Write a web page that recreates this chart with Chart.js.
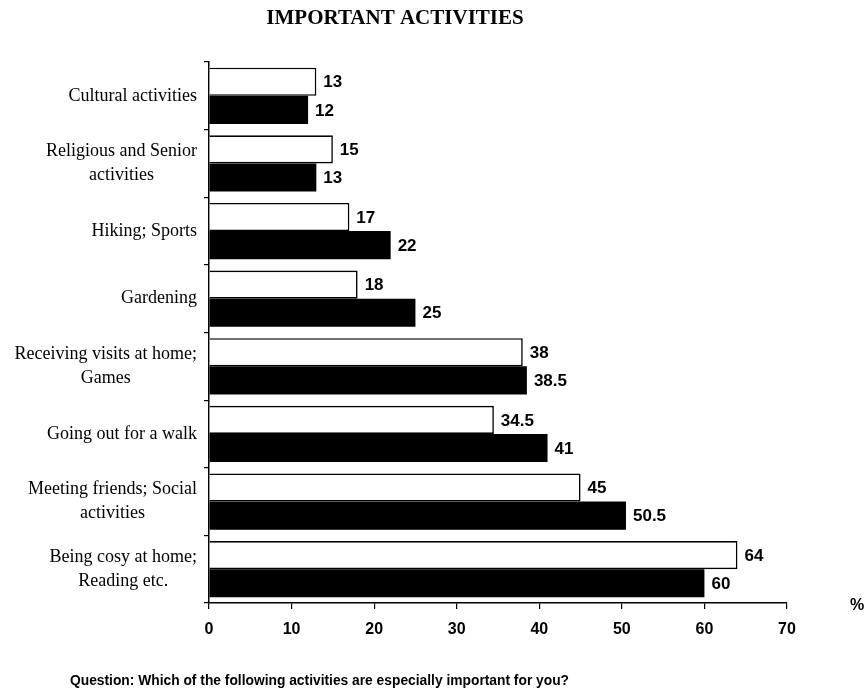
<!DOCTYPE html>
<html>
<head>
<meta charset="utf-8">
<script src="https://cdn.jsdelivr.net/npm/chart.js@4.4.1/dist/chart.umd.min.js"></script>
<style>
  html, body { margin: 0; padding: 0; background: #fff; }
  #wrap { width: 866px; height: 691px; position: relative; }
</style>
</head>
<body>
<div id="wrap"><canvas id="chart" width="866" height="691"></canvas></div>
<script>
// Activities, top to bottom
const categories = [
  ["Cultural activities"],
  ["Religious and Senior", "activities"],
  ["Hiking; Sports"],
  ["Gardening"],
  ["Receiving visits at home;", "Games"],
  ["Going out for a walk"],
  ["Meeting friends; Social", "activities"],
  ["Being cosy at home;", "Reading etc."]
];
// Share of respondents (%) for the two groups
const seriesWhite = [13, 15, 17, 18, 38, 34.5, 45, 64];
const seriesBlack = [12, 13, 22, 25, 38.5, 41, 50.5, 60];
const xTicks = [0, 10, 20, 30, 40, 50, 60, 70];

const titleText = "IMPORTANT ACTIVITIES";
const noteText = "Question: Which of the following activities are especially important for you?";
const unitText = "%";

const SERIF = '"Liberation Serif", "Times New Roman", serif';
const SANS = '"Liberation Sans", Arial, sans-serif';

// Category labels: block right-aligned against the axis, lines centred within the block
const categoryLabels = {
  id: 'categoryLabels',
  afterDraw(chart) {
    const ctx = chart.ctx;
    const y = chart.scales.y;
    const right = chart.chartArea.left - 12;
    const lh = 24;
    ctx.save();
    ctx.font = '18px ' + SERIF;
    ctx.fillStyle = '#000';
    ctx.textBaseline = 'middle';
    ctx.textAlign = 'center';
    categories.forEach((lines, i) => {
      const cy = y.getPixelForValue(i);
      const w = Math.max(...lines.map(l => ctx.measureText(l).width));
      const cx = right - w / 2;
      const y0 = cy - (lines.length - 1) * lh / 2;
      lines.forEach((l, k) => ctx.fillText(l, cx, y0 + k * lh));
    });
    ctx.restore();
  }
};

// Value labels next to the bar ends
const valueLabels = {
  id: 'valueLabels',
  afterDatasetsDraw(chart) {
    const ctx = chart.ctx;
    ctx.save();
    ctx.font = 'bold 17px ' + SANS;
    ctx.fillStyle = '#000';
    ctx.textBaseline = 'middle';
    ctx.textAlign = 'left';
    chart.data.datasets.forEach((ds, di) => {
      chart.getDatasetMeta(di).data.forEach((bar, i) => {
        ctx.fillText(String(ds.data[i]), bar.x + 7, bar.y + 1);
      });
    });
    ctx.restore();
  }
};

// Title, unit sign and the question underneath
const extraText = {
  id: 'extraText',
  afterDraw(chart) {
    const ctx = chart.ctx;
    const ca = chart.chartArea;
    ctx.save();
    ctx.fillStyle = '#000';
    ctx.textBaseline = 'middle';
    ctx.textAlign = 'center';
    ctx.font = 'bold 21px ' + SERIF;
    ctx.fillText(titleText, 395, 19);
    ctx.font = 'bold 16px ' + SANS;
    ctx.fillText(unitText, 857, ca.bottom + 3);
    ctx.textAlign = 'left';
    ctx.font = 'bold 13.8px ' + SANS;
    ctx.fillText(noteText, 70, 681);
    ctx.restore();
  }
};

new Chart(document.getElementById('chart'), {
  type: 'bar',
  data: {
    labels: categories,
    datasets: [
      {
        data: seriesWhite,
        backgroundColor: '#ffffff',
        borderColor: '#000000',
        borderWidth: 1.6,
        borderSkipped: 'start'
      },
      {
        data: seriesBlack,
        backgroundColor: '#000000',
        borderColor: '#000000',
        borderWidth: 0
      }
    ]
  },
  options: {
    indexAxis: 'y',
    responsive: false,
    animation: false,
    devicePixelRatio: 1,
    layout: { padding: { left: 0, right: 79, top: 62, bottom: 38 } },
    datasets: {
      bar: { categoryPercentage: 0.83, barPercentage: 1.0 }
    },
    plugins: {
      legend: { display: false },
      tooltip: { enabled: false },
      title: { display: false }
    },
    scales: {
      x: {
        min: 0,
        max: 70,
        afterFit: s => { s.height = 50; },
        afterBuildTicks: s => { s.ticks = xTicks.map(v => ({ value: v })); },
        border: { display: true, color: '#000', width: 1.5 },
        grid: { drawOnChartArea: false, drawTicks: true, tickLength: 6, color: '#000', lineWidth: 1.2 },
        ticks: {
          color: '#000',
          padding: 11,
          font: { family: SANS, size: 16, weight: 'bold' }
        }
      },
      y: {
        afterFit: s => { s.width = 209; },
        border: { display: true, color: '#000', width: 1.5 },
        grid: { offset: true, drawOnChartArea: false, drawTicks: true, tickLength: 5, color: '#000', lineWidth: 1.2 },
        ticks: { display: false }
      }
    }
  },
  plugins: [categoryLabels, valueLabels, extraText]
});
</script>
</body>
</html>
